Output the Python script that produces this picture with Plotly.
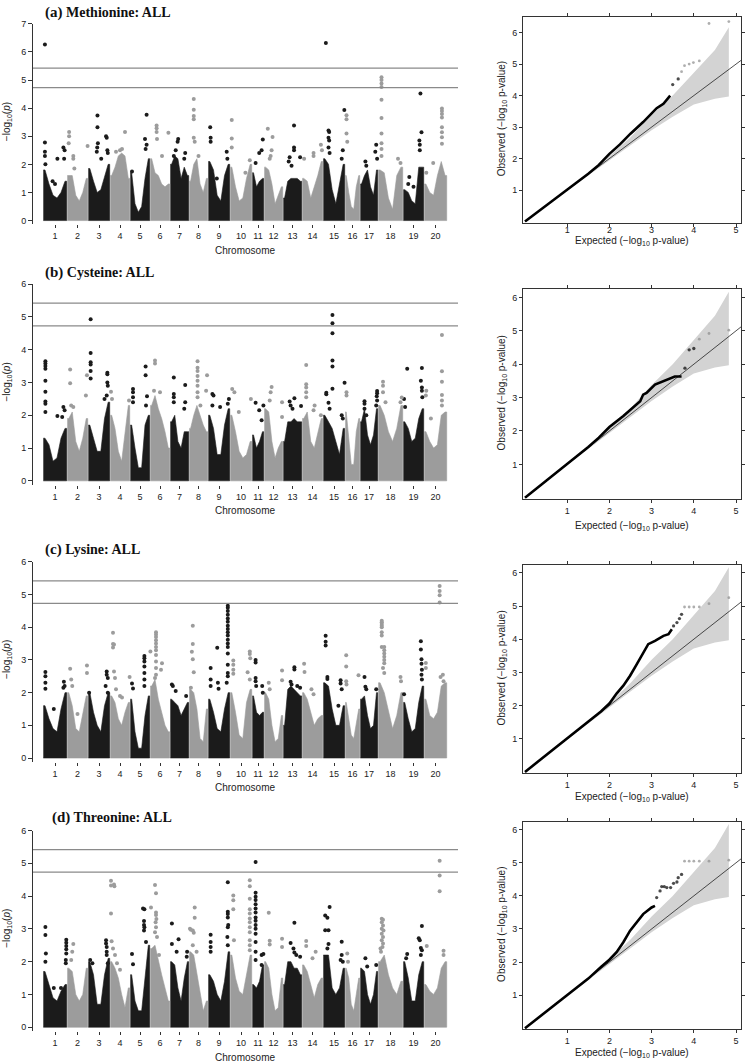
import plotly.graph_objects as go

W, H = 746, 1062

# ---------------- data ----------------
chrom_labels = [str(i) for i in range(1, 21)]
chrom_sizes = [24, 21, 22, 20, 20, 20, 19, 19, 22, 22, 12, 19, 19, 21, 22, 15, 18, 25, 21, 23]

panel_tags = ["(a)", "(b)", "(c)", "(d)"]
trait_names = ["Methionine: ALL", "Cysteine: ALL", "Lysine: ALL", "Threonine: ALL"]

threshold_genomewide = 5.42
threshold_suggestive = 4.73

# upper edge of the dense point cloud, per chromosome (left -> right)
dense_a = [
    [1.8, 1.3, 0.9, 0.8, 1.0, 1.4], [1.6, 1.6, 0.9, 0.7, 1.0, 1.5], [1.85, 1.4, 1.0, 1.1, 1.6, 2.0],
    [1.6, 1.9, 2.3, 2.4, 2.3, 1.5], [1.7, 0.6, 0.3, 0.5, 1.5, 2.2], [2.2, 1.7, 1.6, 1.3, 1.2, 1.3],
    [2.0, 2.3, 2.2, 1.5, 1.9, 1.6], [1.4, 2.0, 2.2, 1.3, 1.0, 1.5], [2.1, 1.8, 0.9, 0.7, 1.6, 2.0],
    [1.9, 1.2, 0.7, 0.8, 1.5, 2.0], [1.7, 1.2, 1.4, 1.5], [1.9, 1.8, 1.3, 0.6, 0.9, 1.2],
    [0.8, 1.4, 1.5, 1.5, 1.5, 1.4], [1.5, 1.4, 0.8, 1.2, 1.6, 2.1], [2.2, 2.0, 1.1, 0.6, 1.3, 2.0],
    [1.6, 1.0, 0.5, 0.4, 1.2, 1.6], [1.3, 1.6, 1.8, 1.2, 0.9, 1.8], [1.8, 1.7, 0.8, 0.4, 1.6, 1.9],
    [1.1, 1.0, 0.7, 0.6, 1.9, 1.9], [1.3, 1.0, 0.9, 1.6, 2.1, 1.6],
]
dense_b = [
    [1.3, 1.1, 0.6, 0.7, 1.3, 1.6], [1.9, 2.1, 1.2, 0.9, 1.3, 1.9], [1.7, 1.3, 0.9, 0.9, 1.9, 2.4],
    [2.0, 1.6, 0.9, 0.6, 1.5, 2.3], [1.7, 1.0, 0.4, 0.4, 1.7, 2.0], [2.3, 2.6, 2.2, 1.9, 1.5, 1.0],
    [1.8, 2.0, 1.2, 1.0, 1.5, 1.5], [1.6, 2.0, 2.3, 2.0, 1.7, 1.5], [2.0, 1.6, 0.8, 0.8, 1.7, 2.2],
    [2.0, 1.5, 0.9, 0.7, 0.8, 1.2], [1.4, 1.0, 1.2, 1.5], [2.2, 2.1, 1.2, 0.7, 1.0, 1.2],
    [1.2, 1.8, 1.8, 1.9, 1.8, 1.8], [1.9, 2.1, 1.2, 1.0, 1.5, 1.9], [2.0, 1.8, 1.6, 1.2, 0.8, 1.6],
    [2.1, 1.3, 0.5, 0.5, 1.5, 1.9], [1.8, 2.2, 1.4, 1.1, 1.4, 2.2], [2.3, 2.0, 1.5, 1.2, 1.6, 2.3],
    [1.8, 1.6, 1.2, 1.3, 1.9, 2.2], [1.5, 1.2, 1.0, 1.1, 2.0, 2.1],
]
dense_c = [
    [1.6, 1.2, 0.9, 0.8, 1.5, 2.0], [2.0, 1.6, 0.9, 0.8, 1.4, 1.9], [2.0, 1.4, 1.0, 0.8, 1.6, 2.0],
    [1.9, 1.7, 1.2, 1.0, 1.4, 1.7], [1.8, 0.8, 0.3, 0.3, 1.3, 1.9], [2.2, 2.4, 1.8, 1.4, 1.0, 0.8],
    [1.8, 1.7, 1.6, 1.3, 1.5, 1.7], [2.1, 2.0, 1.5, 0.6, 0.5, 1.5], [1.8, 1.4, 0.9, 0.8, 1.5, 2.0],
    [2.0, 1.4, 0.7, 0.6, 1.7, 2.1], [1.9, 1.4, 1.3, 1.4], [2.0, 1.8, 1.0, 0.5, 0.6, 1.3],
    [1.0, 2.1, 2.2, 2.1, 2.0, 1.9], [2.0, 1.8, 1.4, 1.0, 1.2, 1.3], [2.3, 2.2, 1.5, 1.0, 1.0, 1.6],
    [1.7, 1.2, 0.7, 0.6, 1.0, 1.5], [1.8, 1.9, 1.3, 0.9, 1.0, 2.0], [2.3, 2.0, 1.4, 0.9, 1.3, 2.0],
    [1.7, 1.2, 0.8, 0.9, 1.7, 2.2], [1.8, 1.3, 1.2, 1.4, 2.2, 2.3],
]
dense_d = [
    [1.7, 1.3, 0.9, 0.8, 1.1, 1.3], [1.8, 1.7, 1.0, 0.8, 1.0, 1.8], [2.0, 1.6, 0.7, 0.7, 1.6, 2.1],
    [2.0, 1.8, 1.5, 1.0, 0.6, 1.2], [1.6, 0.8, 0.5, 0.5, 1.6, 2.5], [2.4, 2.5, 2.0, 1.6, 1.2, 0.8],
    [2.0, 1.9, 1.2, 0.8, 1.5, 2.0], [2.3, 2.2, 1.6, 1.0, 0.5, 0.8], [1.6, 1.4, 1.0, 0.8, 1.4, 2.3],
    [2.2, 1.5, 1.1, 1.0, 1.6, 2.2], [1.3, 1.2, 1.4, 1.9], [2.0, 1.8, 1.0, 0.5, 0.6, 1.5],
    [1.3, 2.0, 2.0, 1.8, 1.8, 1.6], [1.9, 1.7, 1.3, 0.9, 1.3, 1.5], [2.2, 2.2, 1.2, 1.0, 1.2, 1.8],
    [1.8, 1.5, 0.7, 0.5, 1.0, 1.5], [1.8, 1.7, 1.0, 0.7, 1.0, 1.7], [2.0, 2.2, 1.6, 1.2, 1.0, 1.4],
    [2.0, 1.5, 0.8, 0.8, 1.6, 2.0], [1.3, 1.1, 1.0, 1.2, 1.8, 2.0],
]

# individual SNPs standing above the cloud: (position within chromosome 0-1, -log10 p)
peaks_a = [
    [(0.08, 6.26), (0.08, 2.78), (0.08, 2.45), (0.08, 2.3), (0.1, 2.0), (0.6, 2.2), (0.85, 2.6), (0.9, 2.5), (0.88, 2.2), (0.4, 1.4), (0.5, 1.3)],
    [(0.1, 3.15), (0.1, 3.0), (0.08, 2.75), (0.3, 2.3), (0.3, 2.2), (0.35, 1.85), (0.98, 2.65)],
    [(0.43, 3.74), (0.43, 3.32), (0.45, 2.75), (0.42, 2.6), (0.4, 2.45), (0.82, 3.0), (0.85, 2.95), (0.88, 2.5), (0.9, 2.4), (0.6, 2.2)],
    [(0.75, 3.15), (0.5, 2.5), (0.6, 2.55), (0.3, 2.45)],
    [(0.83, 3.76), (0.75, 2.9), (0.83, 2.7), (0.78, 2.55), (0.1, 1.75)],
    [(0.33, 3.38), (0.33, 3.28), (0.33, 3.15), (0.35, 2.9), (0.92, 3.12), (0.6, 2.3)],
    [(0.43, 2.9), (0.4, 2.8), (0.3, 2.5), (0.8, 2.4), (0.75, 2.2), (0.2, 2.3)],
    [(0.25, 4.32), (0.25, 3.94), (0.25, 3.72), (0.25, 3.6), (0.25, 2.95), (0.3, 2.8), (0.5, 2.3)],
    [(0.1, 3.32), (0.12, 2.95), (0.12, 2.8), (0.85, 2.45), (0.88, 2.2), (0.4, 1.5)],
    [(0.08, 3.58), (0.08, 2.92), (0.08, 2.6), (0.9, 2.15), (0.7, 1.7)],
    [(0.9, 2.88), (0.8, 2.5), (0.6, 2.4), (0.3, 2.05)],
    [(0.2, 3.27), (0.45, 2.97), (0.4, 2.5), (0.35, 2.3), (0.3, 2.2)],
    [(0.58, 3.38), (0.58, 2.6), (0.58, 2.5), (0.35, 2.25), (0.9, 2.25), (0.3, 2.1), (0.45, 1.95)],
    [(0.55, 2.4), (0.55, 2.3), (0.9, 2.7), (0.95, 2.5), (0.1, 2.2)],
    [(0.13, 6.32), (0.25, 3.2), (0.28, 3.15), (0.25, 2.95), (0.28, 2.85), (0.25, 2.6), (0.3, 2.4), (0.97, 3.93), (0.9, 2.5), (0.85, 2.2)],
    [(0.1, 3.75), (0.1, 3.6), (0.1, 3.1), (0.15, 2.8)],
    [(0.3, 2.1), (0.35, 1.95), (0.9, 2.7), (0.95, 2.2), (0.85, 2.45)],
    [(0.14, 5.1), (0.14, 5.0), (0.14, 4.88), (0.14, 4.75), (0.14, 4.3), (0.14, 3.65), (0.14, 3.1), (0.14, 2.75), (0.14, 2.55), (0.14, 2.3), (0.8, 2.2), (0.9, 2.05)],
    [(0.83, 4.52), (0.88, 3.14), (0.78, 2.85), (0.8, 2.7), (0.8, 2.5), (0.3, 1.55), (0.25, 1.3), (0.5, 1.2)],
    [(0.78, 3.99), (0.78, 3.9), (0.78, 3.79), (0.78, 3.67), (0.78, 3.32), (0.78, 3.14), (0.78, 2.96), (0.78, 2.73), (0.4, 2.05), (0.1, 1.7)],
]
peaks_b = [
    [(0.1, 3.65), (0.1, 3.58), (0.1, 3.5), (0.1, 3.42), (0.1, 3.05), (0.1, 2.72), (0.1, 2.42), (0.1, 2.35), (0.1, 2.1), (0.6, 1.98), (0.85, 2.25), (0.9, 2.15), (0.8, 1.95)],
    [(0.15, 3.4), (0.15, 2.98), (0.2, 2.3), (0.3, 2.25), (0.95, 3.22), (0.9, 2.6)],
    [(0.12, 4.93), (0.12, 3.9), (0.12, 3.62), (0.12, 3.55), (0.12, 3.35), (0.12, 3.12), (0.88, 3.3), (0.88, 3.25), (0.88, 3.0), (0.9, 2.9), (0.85, 2.6), (0.75, 2.5)],
    [(0.05, 2.72), (0.1, 2.5), (0.95, 2.45)],
    [(0.15, 2.8), (0.15, 2.7), (0.15, 2.55), (0.15, 2.4), (0.78, 3.49), (0.78, 3.22), (0.85, 2.58), (0.8, 2.3)],
    [(0.25, 3.67), (0.25, 3.58), (0.2, 2.75), (0.5, 2.7)],
    [(0.2, 3.15), (0.2, 2.65), (0.2, 2.55), (0.2, 2.4), (0.8, 2.92), (0.8, 2.4), (0.75, 2.2)],
    [(0.45, 3.65), (0.45, 3.45), (0.45, 3.35), (0.45, 3.2), (0.45, 3.05), (0.45, 2.9), (0.45, 2.7), (0.45, 2.55), (0.6, 2.3), (0.95, 3.22), (0.9, 2.75)],
    [(0.2, 2.65), (0.25, 2.6), (0.2, 2.3), (0.55, 2.25), (0.95, 2.5), (0.9, 2.35)],
    [(0.1, 2.8), (0.2, 2.7), (0.4, 2.1), (0.95, 2.5)],
    [(0.3, 2.38), (0.6, 2.15), (0.8, 1.85), (0.95, 2.3)],
    [(0.4, 2.86), (0.35, 2.7), (0.3, 2.45), (0.95, 2.4), (0.95, 1.95)],
    [(0.35, 2.42), (0.6, 2.52), (0.95, 2.28), (0.5, 2.2), (0.4, 2.3)],
    [(0.2, 3.53), (0.2, 2.95), (0.2, 2.85), (0.2, 2.7), (0.2, 2.55), (0.6, 2.3), (0.55, 2.15), (0.9, 2.0)],
    [(0.43, 5.06), (0.43, 4.81), (0.43, 4.5), (0.43, 3.67), (0.43, 3.49), (0.43, 2.81), (0.15, 2.69), (0.15, 2.64), (0.25, 2.38), (0.3, 2.2), (0.85, 2.0), (0.9, 1.9), (0.98, 2.99)],
    [(0.1, 2.7), (0.1, 2.6)],
    [(0.25, 2.43), (0.25, 2.35), (0.25, 2.2), (0.35, 2.0), (0.95, 2.74), (0.95, 2.67), (0.93, 2.58), (0.95, 2.45), (0.9, 2.3)],
    [(0.2, 3.02), (0.2, 2.9), (0.2, 2.7), (0.3, 2.4), (0.95, 2.54), (0.9, 2.4)],
    [(0.2, 3.42), (0.9, 3.44), (0.85, 3.05), (0.9, 2.85), (0.9, 2.75), (0.92, 2.55), (0.1, 2.25), (0.05, 2.5)],
    [(0.1, 2.75), (0.08, 2.6), (0.78, 4.45), (0.78, 3.34), (0.78, 3.02), (0.78, 2.62), (0.78, 2.45), (0.78, 2.3), (0.3, 1.9)],
]
peaks_c = [
    [(0.1, 2.63), (0.1, 2.5), (0.1, 2.3), (0.1, 2.12), (0.45, 1.5), (0.87, 2.33), (0.85, 2.15), (0.9, 2.2)],
    [(0.15, 2.73), (0.2, 2.4), (0.25, 2.2), (0.5, 1.35), (0.95, 2.83), (0.95, 2.6)],
    [(0.05, 2.0), (0.85, 2.65), (0.85, 2.55), (0.9, 2.45), (0.8, 2.2), (0.9, 2.0)],
    [(0.15, 3.83), (0.15, 3.49), (0.2, 3.47), (0.15, 3.38), (0.2, 2.65), (0.25, 2.45), (0.3, 2.1), (0.5, 1.9), (0.6, 1.85), (0.98, 2.48)],
    [(0.1, 2.28), (0.15, 2.13), (0.72, 3.12), (0.72, 3.05), (0.72, 2.95), (0.72, 2.8), (0.72, 2.6), (0.72, 2.4), (0.72, 2.2)],
    [(0.3, 3.85), (0.3, 3.78), (0.3, 3.7), (0.3, 3.6), (0.3, 3.5), (0.3, 3.4), (0.3, 3.3), (0.3, 3.15), (0.3, 2.95), (0.3, 2.75), (0.3, 2.55), (0.02, 3.26), (0.6, 2.9), (0.55, 2.7), (0.25, 2.45)],
    [(0.1, 2.25), (0.15, 2.2), (0.3, 2.05), (0.85, 1.9)],
    [(0.2, 4.05), (0.2, 3.49), (0.15, 3.25), (0.2, 3.02), (0.25, 2.62), (0.1, 2.15)],
    [(0.12, 2.75), (0.12, 2.4), (0.12, 2.2), (0.42, 3.37), (0.45, 2.3), (0.48, 2.12), (0.9, 4.66), (0.9, 4.6), (0.9, 4.5), (0.9, 4.38), (0.9, 4.27), (0.9, 4.17), (0.9, 4.05), (0.9, 3.95), (0.9, 3.85), (0.9, 3.75), (0.9, 3.62), (0.9, 3.5), (0.9, 3.4), (0.9, 3.2), (0.9, 2.85), (0.9, 2.6), (0.9, 2.5), (0.85, 2.3)],
    [(0.15, 2.98), (0.15, 2.85), (0.15, 2.7), (0.15, 2.58), (0.8, 2.62), (0.9, 3.26), (0.9, 3.18), (0.92, 3.05), (0.9, 2.4)],
    [(0.3, 3.0), (0.3, 2.92), (0.3, 2.45), (0.3, 2.35), (0.35, 2.2), (0.85, 2.2), (0.9, 2.0)],
    [(0.25, 2.3), (0.3, 2.1), (0.95, 2.68), (0.95, 2.38)],
    [(0.6, 2.78), (0.6, 2.71), (0.4, 2.33), (0.45, 2.25), (0.75, 2.2), (0.9, 2.15)],
    [(0.1, 2.88), (0.12, 2.63), (0.45, 2.1), (0.55, 1.95)],
    [(0.12, 3.74), (0.12, 3.56), (0.12, 3.44), (0.2, 2.48), (0.2, 2.42), (0.8, 2.38), (0.8, 2.28), (0.85, 2.1), (0.7, 1.6)],
    [(0.08, 3.14), (0.08, 2.8), (0.08, 2.35), (0.1, 2.25), (0.9, 2.53)],
    [(0.25, 2.48), (0.3, 2.18), (0.35, 2.1), (0.9, 2.1)],
    [(0.15, 4.2), (0.15, 4.15), (0.15, 4.1), (0.15, 4.05), (0.15, 4.0), (0.15, 3.85), (0.15, 3.75), (0.15, 3.4), (0.25, 3.4), (0.25, 3.3), (0.25, 3.2), (0.25, 3.1), (0.25, 3.0), (0.25, 2.9), (0.2, 2.75), (0.25, 2.6), (0.9, 2.48), (0.92, 2.35)],
    [(0.85, 3.57), (0.85, 3.32), (0.88, 3.02), (0.88, 2.88), (0.9, 2.7), (0.88, 2.55), (0.9, 2.4), (0.05, 1.95)],
    [(0.08, 2.91), (0.08, 2.75), (0.68, 5.26), (0.68, 5.11), (0.68, 4.98), (0.68, 4.76), (0.72, 2.48), (0.82, 2.55), (0.85, 2.35)],
]
peaks_d = [
    [(0.1, 3.06), (0.1, 2.81), (0.12, 2.25), (0.1, 2.0), (0.45, 1.2), (0.75, 1.2), (0.97, 2.67), (0.97, 2.58), (0.97, 2.48), (0.97, 2.38), (0.97, 2.25), (0.95, 2.05), (0.95, 1.95)],
    [(0.3, 2.54), (0.25, 2.3), (0.2, 2.05)],
    [(0.1, 2.05), (0.2, 1.95), (0.82, 2.65), (0.82, 2.55), (0.85, 2.45), (0.85, 2.3), (0.85, 2.2), (0.9, 1.95)],
    [(0.05, 4.47), (0.05, 4.32), (0.2, 4.35), (0.22, 4.3), (0.05, 3.47), (0.08, 2.62), (0.15, 2.4), (0.25, 2.2), (0.35, 1.95), (0.5, 1.75)],
    [(0.1, 2.23), (0.15, 1.92), (0.65, 3.62), (0.72, 3.6), (0.7, 3.24), (0.7, 3.12), (0.72, 3.05), (0.7, 2.95), (0.8, 2.6)],
    [(0.25, 4.34), (0.3, 4.09), (0.05, 3.65), (0.3, 3.5), (0.3, 3.42), (0.32, 3.3), (0.28, 3.2), (0.3, 3.05), (0.25, 2.9), (0.35, 2.75), (0.45, 2.2)],
    [(0.1, 3.16), (0.1, 2.54), (0.45, 2.68), (0.35, 2.3), (0.9, 2.3), (0.88, 2.15)],
    [(0.05, 3.0), (0.1, 2.97), (0.2, 2.95), (0.25, 2.88), (0.3, 3.65), (0.3, 3.34), (0.2, 2.5), (0.4, 2.3)],
    [(0.12, 2.82), (0.12, 2.6), (0.12, 2.45), (0.12, 2.3), (0.9, 4.42), (0.9, 3.52), (0.9, 3.45), (0.9, 3.35), (0.92, 3.12), (0.9, 3.05), (0.88, 2.75), (0.9, 2.5)],
    [(0.15, 4.02), (0.15, 3.87), (0.15, 3.6), (0.18, 2.65), (0.9, 4.48), (0.9, 4.3), (0.9, 3.92), (0.9, 3.6), (0.9, 3.47), (0.9, 3.32), (0.9, 3.2), (0.9, 3.05), (0.9, 2.9), (0.9, 2.65), (0.9, 2.5), (0.9, 2.35)],
    [(0.3, 5.04), (0.3, 4.1), (0.3, 3.98), (0.3, 3.88), (0.3, 3.75), (0.3, 3.62), (0.3, 3.5), (0.3, 3.35), (0.3, 3.25), (0.3, 3.12), (0.3, 3.0), (0.3, 2.85), (0.3, 2.6), (0.3, 2.3), (0.3, 2.05), (0.8, 2.2), (0.8, 1.9), (0.95, 2.23)],
    [(0.25, 3.49), (0.3, 2.64), (0.3, 2.52), (0.95, 2.7), (0.95, 2.45)],
    [(0.6, 3.19), (0.4, 2.57), (0.55, 2.4), (0.6, 2.28), (0.7, 2.2), (0.9, 2.15)],
    [(0.2, 2.63), (0.2, 2.48), (0.65, 2.3), (0.5, 2.1)],
    [(0.3, 3.67), (0.1, 3.41), (0.2, 3.34), (0.1, 2.96), (0.25, 2.96), (0.25, 2.54), (0.2, 2.4), (0.85, 2.61), (0.85, 2.2), (0.8, 2.05), (0.9, 2.0)],
    [(0.15, 2.25), (0.2, 2.0)],
    [(0.3, 2.1), (0.4, 1.85), (0.9, 1.9)],
    [(0.15, 3.31), (0.2, 3.28), (0.15, 3.2), (0.2, 3.1), (0.15, 3.0), (0.22, 2.95), (0.15, 2.85), (0.2, 2.75), (0.15, 2.65), (0.2, 2.55), (0.18, 2.45), (0.1, 2.4), (0.12, 2.3)],
    [(0.2, 2.23), (0.15, 2.1), (0.9, 3.09), (0.75, 2.71), (0.8, 2.65), (0.85, 2.42), (0.9, 2.35), (0.85, 2.2)],
    [(0.12, 2.48), (0.68, 5.08), (0.68, 4.63), (0.68, 4.15), (0.85, 2.33), (0.85, 2.2)],
]

# QQ plots: dense part of observed curve, then the sparse tail
qq_dense_x = [
    [0, 0.5, 1.0, 1.5, 1.75, 2.0, 2.25, 2.5, 2.8, 3.0, 3.12, 3.28, 3.44],
    [0, 0.5, 1.0, 1.5, 1.75, 2.0, 2.33, 2.65, 2.73, 2.8, 2.88, 3.08, 3.28, 3.44, 3.55, 3.71],
    [0, 0.5, 1.0, 1.5, 1.8, 2.0, 2.17, 2.33, 2.49, 2.65, 2.8, 2.92, 3.08, 3.28, 3.4, 3.48],
    [0, 0.5, 1.0, 1.5, 1.8, 2.0, 2.17, 2.33, 2.49, 2.65, 2.8, 3.0, 3.08],
]
qq_dense_y = [
    [0, 0.5, 1.0, 1.52, 1.8, 2.15, 2.45, 2.79, 3.16, 3.42, 3.6, 3.74, 4.0],
    [0, 0.5, 1.0, 1.52, 1.8, 2.12, 2.45, 2.79, 2.89, 3.09, 3.14, 3.39, 3.49, 3.58, 3.63, 3.63],
    [0, 0.5, 1.0, 1.5, 1.82, 2.06, 2.36, 2.6, 2.9, 3.25, 3.6, 3.85, 3.95, 4.1, 4.15, 4.3],
    [0, 0.5, 1.0, 1.5, 1.85, 2.07, 2.3, 2.6, 2.95, 3.2, 3.45, 3.65, 3.7],
]
qq_tail_x = [
    [3.5, 3.63, 3.71, 3.78, 3.89, 3.99, 4.13, 4.36, 4.83],
    [3.79, 3.89, 4.0, 4.13, 4.36, 4.83],
    [3.52, 3.6, 3.66, 3.71, 3.78, 3.89, 4.0, 4.13, 4.36, 4.83],
    [3.12, 3.2, 3.24, 3.3, 3.36, 3.45, 3.52, 3.6, 3.63, 3.71, 3.78, 3.89, 4.0, 4.13, 4.36, 4.83],
]
qq_tail_y = [
    [4.35, 4.53, 4.76, 4.95, 5.0, 5.05, 5.1, 6.29, 6.35],
    [3.88, 4.43, 4.47, 4.75, 4.92, 5.02],
    [4.4, 4.5, 4.62, 4.75, 4.97, 4.97, 4.97, 4.97, 5.07, 5.25],
    [3.95, 4.15, 4.28, 4.28, 4.25, 4.25, 4.38, 4.42, 4.55, 4.65, 5.05, 5.05, 5.05, 5.05, 5.05, 5.08],
]
qq_tail_gray_from = [3.7, 4.1, 3.75, 3.75]

band_x = [1.0, 1.5, 2.0, 2.5, 3.0, 3.5, 4.0, 4.5, 4.83]
band_upper = [1.02, 1.55, 2.08, 2.68, 3.38, 4.0, 4.74, 5.45, 6.17]
band_lower = [0.98, 1.46, 1.93, 2.42, 2.9, 3.33, 3.72, 3.9, 3.97]
diag_ends = [0, 5.3]

# ---------------- layout geometry (pixels) ----------------
def fx(p):
    return p / W

def fy(p):
    return 1 - p / H

man_geom = [  # zero-line px, px per unit, top value
    (217, 28.3, 7), (479, 33.0, 6), (758, 32.9, 6), (1029, 33.0, 6)]
qq_geom = [  # zero px, px per unit, top-of-box px
    (218, 31.7, 12), (496, 33.6, 286), (772, 33.4, 564), (1030, 33.3, 822)]
qq_label_standoff = [-4, 0, 0, 0]
title_pos = [(43, 8), (43, 269), (43, 548), (50, 818)]
qq_xtitle_y = [238, 524, 797, 1055]

DARK = "#1b1b1b"
GRAY = "#9c9c9c"
AXC = "#333333"
TICKFONT = dict(family="Liberation Sans, Arial, sans-serif", size=9, color="#222222")

offsets = []
acc = 0
for s in chrom_sizes:
    offsets.append(acc)
    acc += s
centers = [o + s / 2 for o, s in zip(offsets, chrom_sizes)]
total = acc

dense_all = [dense_a, dense_b, dense_c, dense_d]
peaks_all = [peaks_a, peaks_b, peaks_c, peaks_d]

fig = go.Figure()
layout = dict(width=W, height=H, margin=dict(l=0, r=0, t=0, b=0),
              paper_bgcolor="white", plot_bgcolor="white", showlegend=False)
shapes = []
annotations = []

def axname(idx, kind):
    return kind if idx == 1 else f"{kind}{idx}"

for i in range(4):
    mi = 2 * i + 1
    qi = 2 * i + 2
    mx, my = axname(mi, "x"), axname(mi, "y")
    qx, qy = axname(qi, "x"), axname(qi, "y")
    zero, unit, ytop = man_geom[i]
    ylo = -0.12

    # dense clouds as filled envelopes
    for parity, color in ((0, DARK), (1, GRAY)):
        xs, ys = [], []
        for c in range(20):
            if c % 2 != parity:
                continue
            h = dense_all[i][c]
            n = len(h)
            s = chrom_sizes[c]
            o = offsets[c]
            cx = [o + (k + 0.5) * s / n for k in range(n)]
            xs += [o + 0.3] + cx + [o + s - 0.3, o + s - 0.3, o + 0.3, None]
            ys += [h[0]] + h + [h[-1], 0, 0, None]
        fig.add_trace(go.Scatter(x=xs, y=ys, mode="lines", fill="toself", fillcolor=color,
                                 line=dict(width=0.6, color=color), xaxis=mx, yaxis=my,
                                 hoverinfo="skip"))
    # individual points
    for parity, color in ((0, DARK), (1, GRAY)):
        xs, ys = [], []
        for c in range(20):
            if c % 2 != parity:
                continue
            for f, v in peaks_all[i][c]:
                xs.append(offsets[c] + f * chrom_sizes[c])
                ys.append(v)
        fig.add_trace(go.Scatter(x=xs, y=ys, mode="markers", cliponaxis=False,
                                 marker=dict(size=4, color=color), xaxis=mx, yaxis=my,
                                 hoverinfo="skip"))

    layout[axname(mi, "xaxis")] = dict(
        domain=[fx(33), fx(458)], range=[-10, total + 11], anchor=my,
        showgrid=False, zeroline=False, showline=False,
        tickmode="array", tickvals=centers, ticktext=chrom_labels,
        ticks="outside", ticklen=3, tickcolor=AXC, tickfont=TICKFONT)
    layout[axname(mi, "yaxis")] = dict(
        domain=[fy(zero - ylo * unit), fy(zero - ytop * unit)], range=[ylo, ytop], anchor=mx,
        showgrid=False, zeroline=False, showline=True, linecolor=AXC, linewidth=1,
        tickmode="array", tickvals=list(range(ytop + 1)),
        ticks="outside", ticklen=4, tickcolor=AXC, tickfont=TICKFONT)

    for thr in (threshold_genomewide, threshold_suggestive):
        shapes.append(dict(type="line", xref=f"{mx} domain", yref=my, x0=0, x1=1, y0=thr, y1=thr,
                           line=dict(color="#8a8a8a", width=1.2), layer="above"))

    tx, ty = title_pos[i]
    annotations.append(dict(
        x=fx(tx), y=fy(ty), xref="paper", yref="paper", xanchor="left", yanchor="middle",
        showarrow=False,
        text=f"<b><span style='font-size:15px'>{panel_tags[i]}</span> {trait_names[i]}</b>",
        font=dict(family="Liberation Serif, Times New Roman, serif", size=14, color="#111111")))
    annotations.append(dict(
        x=fx(245), y=fy(zero + 30), xref="paper", yref="paper", xanchor="center", yanchor="middle",
        showarrow=False, text="Chromosome", font=dict(family=TICKFONT["family"], size=10, color="#222")))
    annotations.append(dict(
        x=fx(7), y=fy(zero - ytop * unit / 2), xref="paper", yref="paper", xanchor="center",
        yanchor="middle", showarrow=False, textangle=-90,
        text="\u2212log<sub>10</sub>(<i>p</i>)", font=dict(family=TICKFONT["family"], size=10, color="#222")))

    # ---------------- QQ ----------------
    qzero, qunit, qtop = qq_geom[i]
    qymax = (qzero - qtop) / qunit
    qylo = -0.03
    fig.add_trace(go.Scatter(
        x=band_x + band_x[::-1], y=band_upper + band_lower[::-1], mode="lines", fill="toself",
        fillcolor="#d3d3d3", line=dict(width=0, color="#d3d3d3"), xaxis=qx, yaxis=qy, hoverinfo="skip"))
    fig.add_trace(go.Scatter(x=diag_ends, y=diag_ends, mode="lines",
                             line=dict(color="#222222", width=0.8), xaxis=qx, yaxis=qy, hoverinfo="skip"))
    fig.add_trace(go.Scatter(x=qq_dense_x[i], y=qq_dense_y[i], mode="lines",
                             line=dict(color="black", width=2.6), xaxis=qx, yaxis=qy, hoverinfo="skip"))
    g = qq_tail_gray_from[i]
    tail_colors = ["#8c8c8c" if xv >= g else "black" for xv in qq_tail_x[i]]
    tail_sizes = [2.8 if xv >= g else 3.3 for xv in qq_tail_x[i]]
    fig.add_trace(go.Scatter(x=qq_tail_x[i], y=qq_tail_y[i], mode="markers", cliponaxis=False,
                             marker=dict(size=tail_sizes, color=tail_colors, line=dict(width=0)),
                             xaxis=qx, yaxis=qy, hoverinfo="skip"))

    layout[axname(qi, "xaxis")] = dict(
        domain=[fx(523), fx(741)], range=[-0.047, 5.118], anchor=qy,
        showgrid=False, zeroline=False, showline=True, linecolor=AXC, linewidth=1, mirror="ticks",
        tickmode="array", tickvals=[1, 2, 3, 4, 5], ticks="outside", ticklen=3, tickcolor=AXC,
        tickfont=TICKFONT, ticklabelstandoff=qq_label_standoff[i])
    layout[axname(qi, "yaxis")] = dict(
        domain=[fy(qzero - qylo * qunit), fy(qtop)], range=[qylo, qymax], anchor=qx,
        showgrid=False, zeroline=False, showline=True, linecolor=AXC, linewidth=1, mirror="ticks",
        tickmode="array", tickvals=[1, 2, 3, 4, 5, 6], ticks="outside", ticklen=3, tickcolor=AXC,
        tickfont=TICKFONT)
    annotations.append(dict(
        x=fx(632), y=fy(qq_xtitle_y[i]), xref="paper", yref="paper", xanchor="center", yanchor="middle",
        showarrow=False, text="Expected (\u2212log<sub>10</sub> p-value)",
        font=dict(family=TICKFONT["family"], size=10, color="#222")))
    annotations.append(dict(
        x=fx(502), y=fy((qzero + qtop) / 2), xref="paper", yref="paper", xanchor="center",
        yanchor="middle", showarrow=False, textangle=-90,
        text="Observed (\u2212log<sub>10</sub> p-value)",
        font=dict(family=TICKFONT["family"], size=10, color="#222")))

layout["shapes"] = shapes
layout["annotations"] = annotations
fig.update_layout(**layout)
fig.write_html("out.html", config={"displayModeBar": False},
               post_script="document.body.style.margin='0px';document.body.style.overflow='hidden';")
